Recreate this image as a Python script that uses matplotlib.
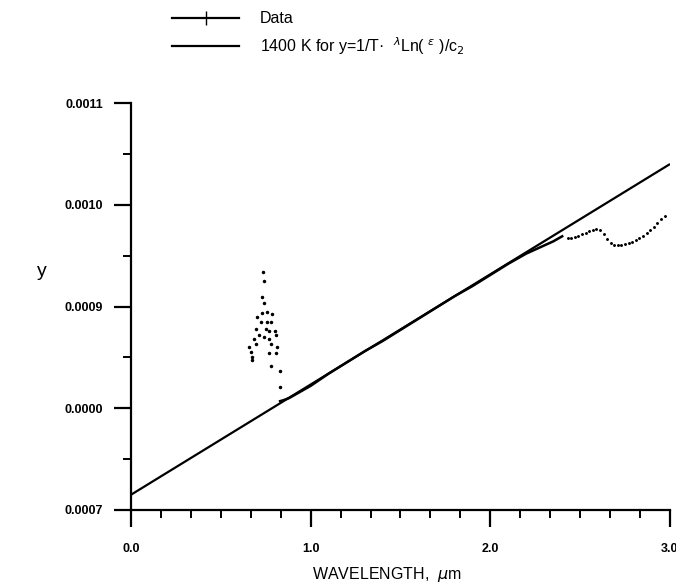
import matplotlib
matplotlib.use("Agg")
import matplotlib.pyplot as plt
from matplotlib.lines import Line2D
from matplotlib.ticker import FixedLocator, FixedFormatter, MultipleLocator

plt.rcParams['font.family'] = ['Liberation Sans', 'DejaVu Sans']

# ---- data ----
fit_lam = [0.0, 3.0]
fit_y = [0.000715, 0.001040]

data_lam = [0.83, 0.85, 0.88, 0.90, 0.95, 1.00, 1.05, 1.10, 1.20, 1.30, 1.40,
            1.50, 1.60, 1.70, 1.80, 1.90, 2.00, 2.10, 2.20, 2.25, 2.30, 2.35, 2.40]
data_y = [0.000807, 0.000808, 0.000810, 0.000812, 0.000817, 0.000822, 0.000828,
          0.000834, 0.000845, 0.000856, 0.000866, 0.000877, 0.000888, 0.000899,
          0.000910, 0.000920, 0.000931, 0.000942, 0.000952, 0.000956, 0.000960,
          0.000964, 0.000969]

tail_lam = [2.43, 2.45, 2.47, 2.49, 2.51, 2.53, 2.55, 2.57, 2.59, 2.61, 2.63,
            2.65, 2.67, 2.69, 2.71, 2.73, 2.75, 2.77, 2.79, 2.81, 2.83, 2.85,
            2.87, 2.89, 2.91, 2.93, 2.95, 2.97]
tail_y = [0.000967, 0.000967, 0.000968, 0.000969, 0.000971, 0.000972, 0.000974,
          0.000975, 0.000976, 0.000975, 0.000971, 0.000966, 0.000962, 0.000960,
          0.000960, 0.000960, 0.000961, 0.000962, 0.000963, 0.000965, 0.000967,
          0.000969, 0.000972, 0.000975, 0.000978, 0.000982, 0.000986, 0.000989]

scat_lam = [0.735, 0.738, 0.731, 0.740, 0.731, 0.759, 0.786, 0.703, 0.722, 0.759,
            0.782, 0.694, 0.750, 0.768, 0.801, 0.713, 0.740, 0.768, 0.808, 0.685,
            0.694, 0.777, 0.814, 0.667, 0.676, 0.768, 0.808, 0.672, 0.777, 0.827,
            0.827, 0.657]
scat_y = [0.000934, 0.000925, 0.000909, 0.000903, 0.000894, 0.000895, 0.000893,
          0.000890, 0.000885, 0.000885, 0.000885, 0.000878, 0.000878, 0.000876,
          0.000876, 0.000872, 0.000870, 0.000868, 0.000872, 0.000868, 0.000863,
          0.000863, 0.000860, 0.000855, 0.000850, 0.000854, 0.000854, 0.000847,
          0.000842, 0.000837, 0.000821, 0.000860]

ytick_vals = [0.0007, 0.0008, 0.0009, 0.0010, 0.0011]
ytick_labels = ['0.0007', '0.0000', '0.0009', '0.0010', '0.0011']
xtick_vals = [0.0, 1.0, 2.0, 3.0]
xtick_labels = ['0.0', '1.0', '2.0', '3.0']

# ---- figure ----
fig = plt.figure(figsize=(6.76, 5.85), dpi=100)
ax = fig.add_axes([131/676, 75/585, 539/676, 407/585])

ax.plot(fit_lam, fit_y, color='black', lw=1.6, solid_capstyle='butt')
ax.plot(data_lam, data_y, color='black', lw=1.8)
ax.plot(tail_lam, tail_y, linestyle='none', marker='.', color='black', markersize=2.2)
ax.plot(scat_lam, scat_y, linestyle='none', marker='.', color='black', markersize=3)

ax.set_xlim(0, 3.0)
ax.set_ylim(0.0007, 0.0011)
for s in ['top', 'right']:
    ax.spines[s].set_visible(False)
for s in ['left', 'bottom']:
    ax.spines[s].set_linewidth(1.6)

ax.xaxis.set_major_locator(FixedLocator(xtick_vals))
ax.xaxis.set_major_formatter(FixedFormatter(xtick_labels))
ax.xaxis.set_minor_locator(MultipleLocator(1/6))
ax.yaxis.set_major_locator(FixedLocator(ytick_vals))
ax.yaxis.set_major_formatter(FixedFormatter(ytick_labels))
ax.yaxis.set_minor_locator(MultipleLocator(0.00005))

ax.tick_params(axis='both', which='major', direction='out', length=12, width=1.6,
               labelsize=9)
ax.tick_params(axis='both', which='minor', direction='out', length=5.5, width=1.4)
ax.tick_params(axis='x', which='major', pad=12)
ax.tick_params(axis='y', which='major', pad=8)
for lab in ax.get_xticklabels() + ax.get_yticklabels():
    lab.set_fontweight('bold')

ax.set_xlabel('WAVELENGTH,  $\\mu$m', fontsize=11.5)
ax.xaxis.set_label_coords((387 - 131) / 539, (510 - 575) / 407)
ax.xaxis.label.set_va('center')
fig.text(42/676, 1 - 272/585, 'y', fontsize=14, ha='center', va='center')

h_data = Line2D([], [], color='black', lw=1.6, marker='|', markersize=10, markeredgewidth=1.0)
h_fit = Line2D([], [], color='black', lw=1.6)
fig.legend([h_data, h_fit],
           ['Data', '1400 K for y=1/T\u00b7  $^{\\lambda}$Ln( $^{\\epsilon}$ )/c$_2$'],
           loc='upper left', bbox_to_anchor=(158/676, 1.0 + 3/585),
           frameon=False, fontsize=11.5, handlelength=4.2, handletextpad=1.3,
           labelspacing=0.55, numpoints=1)

fig.savefig('out.png', dpi=100)
